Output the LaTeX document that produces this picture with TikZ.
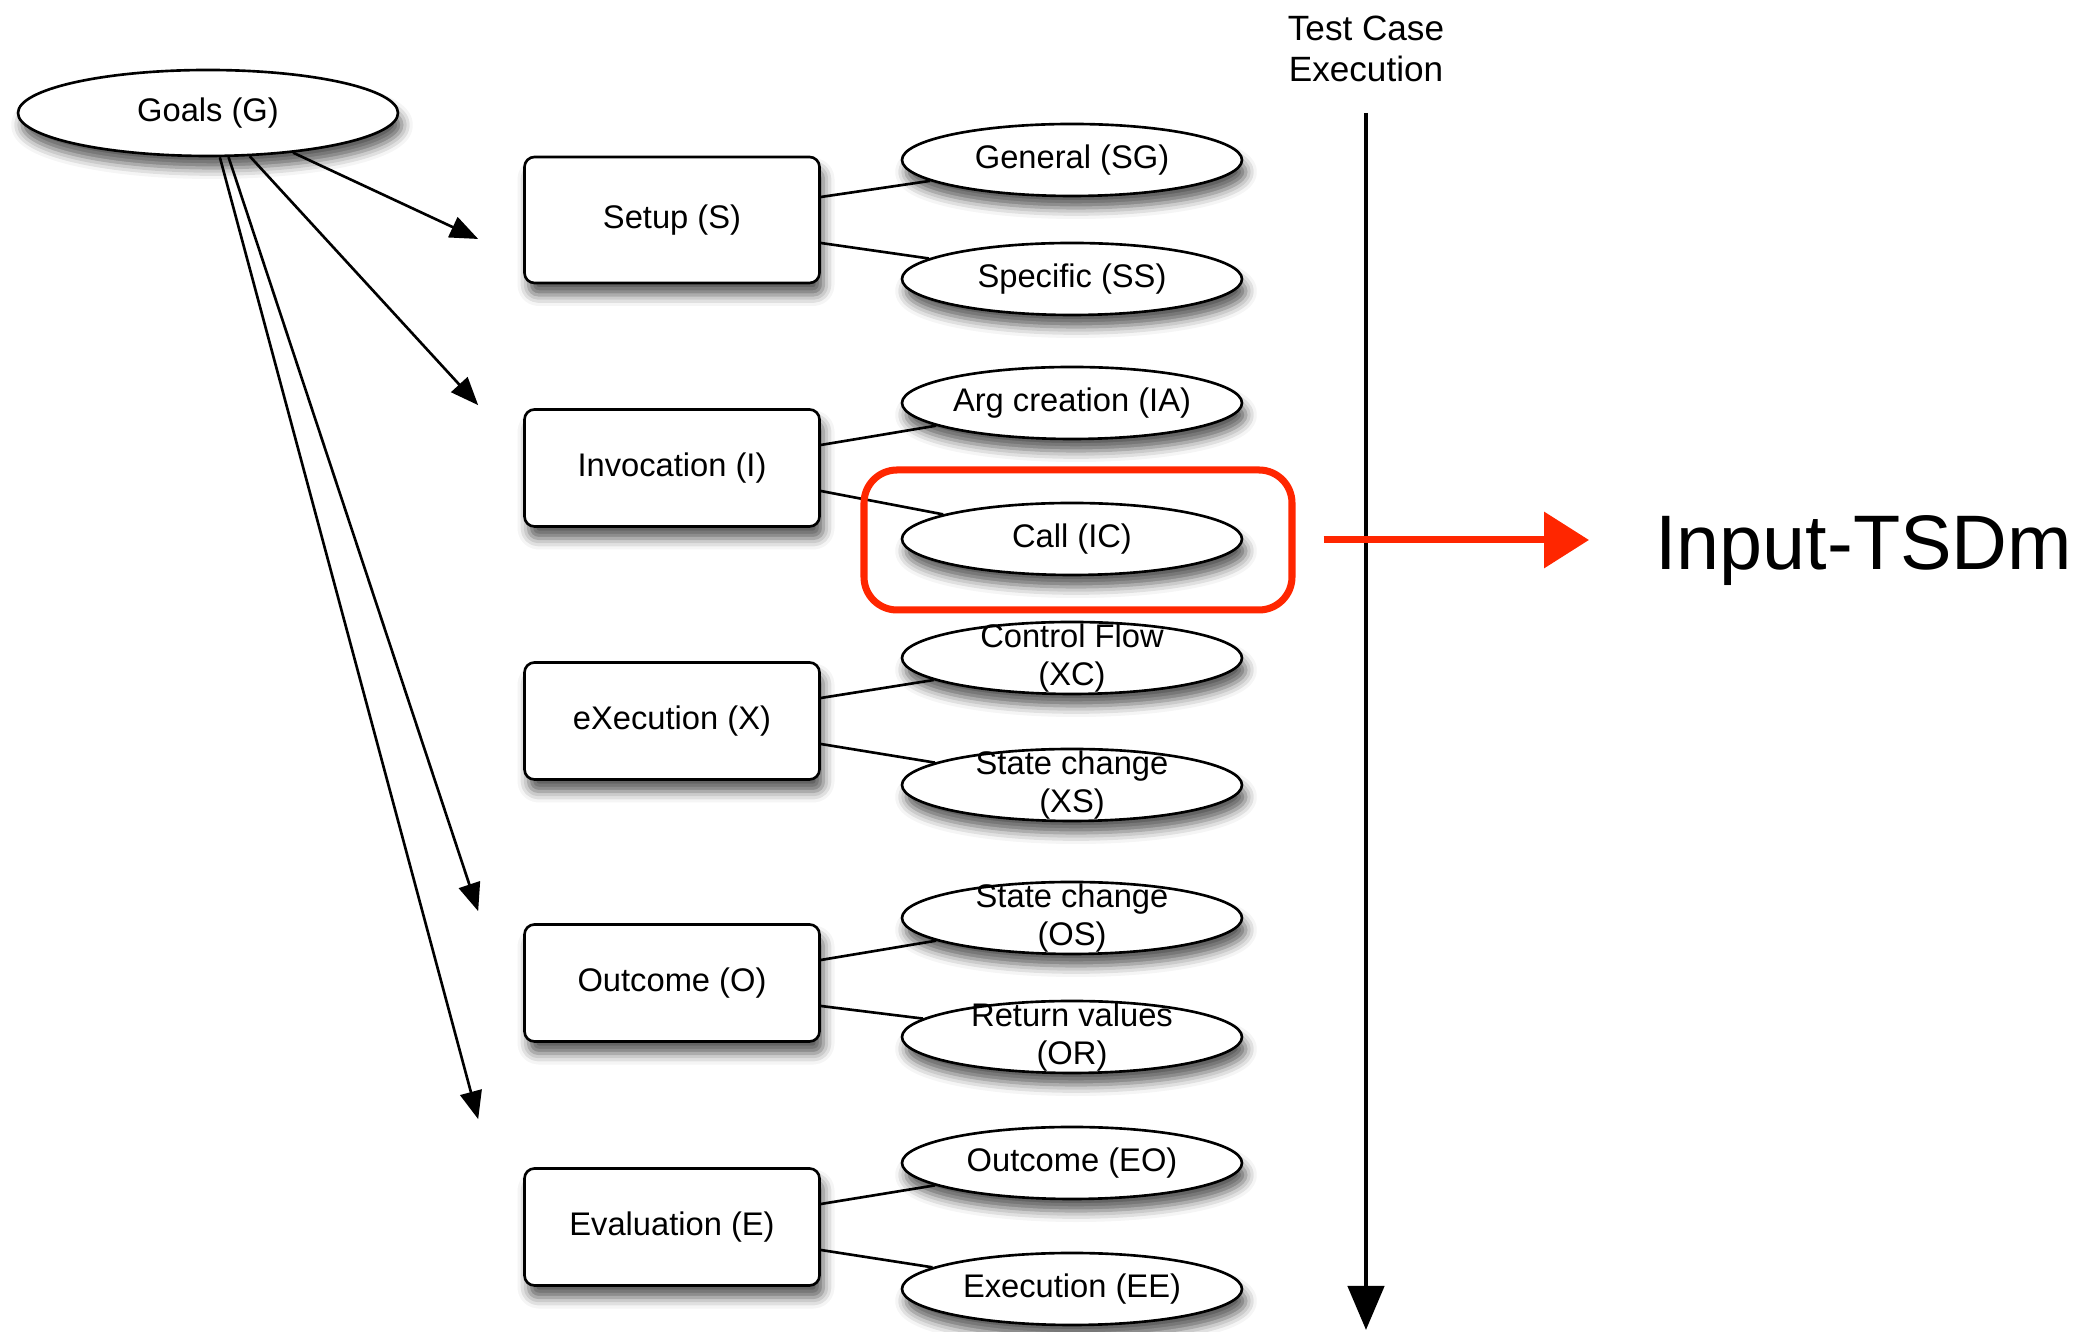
\documentclass[tikz,border=0pt]{standalone}
\usepackage{fontspec}
\setmainfont{Liberation Sans}
\usetikzlibrary{positioning, shapes.geometric, arrows.meta, shadows.blur}
\definecolor{tsdred}{RGB}{255,38,0}
\newcommand{\lblfont}{\fontsize{9.3}{11}\selectfont}

\begin{document}
\begin{tikzpicture}[>={Triangle[length=2.8mm, width=2.2mm]}, line width=0.75pt,
    every node/.style={font=\lblfont, align=center},
    softshadow/.style={blur shadow={shadow xshift=0.4mm, shadow yshift=-1.2mm, shadow blur radius=1.1mm, shadow opacity=65}},
    phase/.style={draw, fill=white, softshadow, rounded corners=1mm, minimum width=2.95cm, minimum height=1.17cm},
    leaf/.style={draw, fill=white, softshadow, ellipse, inner sep=0pt, minimum width=3.4cm, minimum height=0.72cm, label={center:#1}}]
    \useasboundingbox (0,0) rectangle (20.8,-13.32);

    % Goals
    \node (G) [draw, fill=white, softshadow, ellipse, minimum width=3.8cm, minimum height=0.86cm] at (2.08,-1.13) {Goals (G)};

    % Phases
    \node (S) [phase, minimum height=1.26cm] at (6.72,-2.20) {Setup (S)};
    \node (I) [phase] at (6.72,-4.68) {Invocation (I)};
    \node (X) [phase] at (6.72,-7.21) {eXecution (X)};
    \node (O) [phase] at (6.72,-9.83) {Outcome (O)};
    \node (E) [phase] at (6.72,-12.27) {Evaluation (E)};

    % Sub-elements
    \node (SG) [leaf={General (SG)}] at (10.72,-1.60) {};
    \node (SS) [leaf={Specific (SS)}] at (10.72,-2.79) {};
    \node (IA) [leaf={Arg creation (IA)}] at (10.72,-4.03) {};
    \node (IC) [leaf={Call (IC)}] at (10.72,-5.39) {};
    \node (XC) [leaf={Control Flow\\(XC)}] at (10.72,-6.58) {};
    \node (XS) [leaf={State change\\(XS)}] at (10.72,-7.85) {};
    \node (OS) [leaf={State change\\(OS)}] at (10.72,-9.18) {};
    \node (OR) [leaf={Return values\\(OR)}] at (10.72,-10.37) {};
    \node (EO) [leaf={Outcome (EO)}] at (10.72,-11.63) {};
    \node (EE) [leaf={Execution (EE)}] at (10.72,-12.89) {};

    \foreach \p/\u/\d in {S/SG/SS, I/IA/IC, X/XC/XS, O/OS/OR, E/EO/EE} {
        \draw ([yshift=2.3mm]\p.east) -- (\u);
        \draw ([yshift=-2.3mm]\p.east) -- (\d);
    }

    % Goal arrows
    \draw[->] (G.-25) -- ([xshift=-4.5mm, yshift=-1.9mm]S.west);
    \draw[->] (G.-46) -- ([xshift=-4.5mm, yshift=0.3mm]I.north west);
    \draw[->] (G.-65) -- ([xshift=-4.5mm, yshift=1.2mm]O.north west);
    \draw[->] (G.-75) -- ([xshift=-4.5mm, yshift=4.8mm]E.north west);

    % Test case execution axis
    \node (tce) [font=\fontsize{10}{11.6}\selectfont] at (13.66,-0.49) {Test Case\\Execution};
    \coordinate (tcTop) at (13.66,-1.13);
    \coordinate (tcBot) at (13.66,-13.30);
    \draw[-{Triangle[length=4.4mm, width=3.6mm]}, line width=1.3pt] (tcTop) -- (tcBot);

    % Highlight and mapping
    \node (hl) [draw=tsdred, line width=2pt, rounded corners=3.3mm, minimum width=4.28cm, minimum height=1.40cm] at (10.78,-5.40) {};
    \node (tsdm) [anchor=base west, inner sep=0pt, font=\fontsize{22}{26}\selectfont] at (16.54,-5.70) {Input-TSDm};
    \draw[-{Triangle[length=4.5mm, width=5.5mm]}, tsdred, line width=2pt] ([xshift=2.8mm]hl.east) -- ([xshift=-6.5mm]hl.east -| tsdm.west);
\end{tikzpicture}
\end{document}
